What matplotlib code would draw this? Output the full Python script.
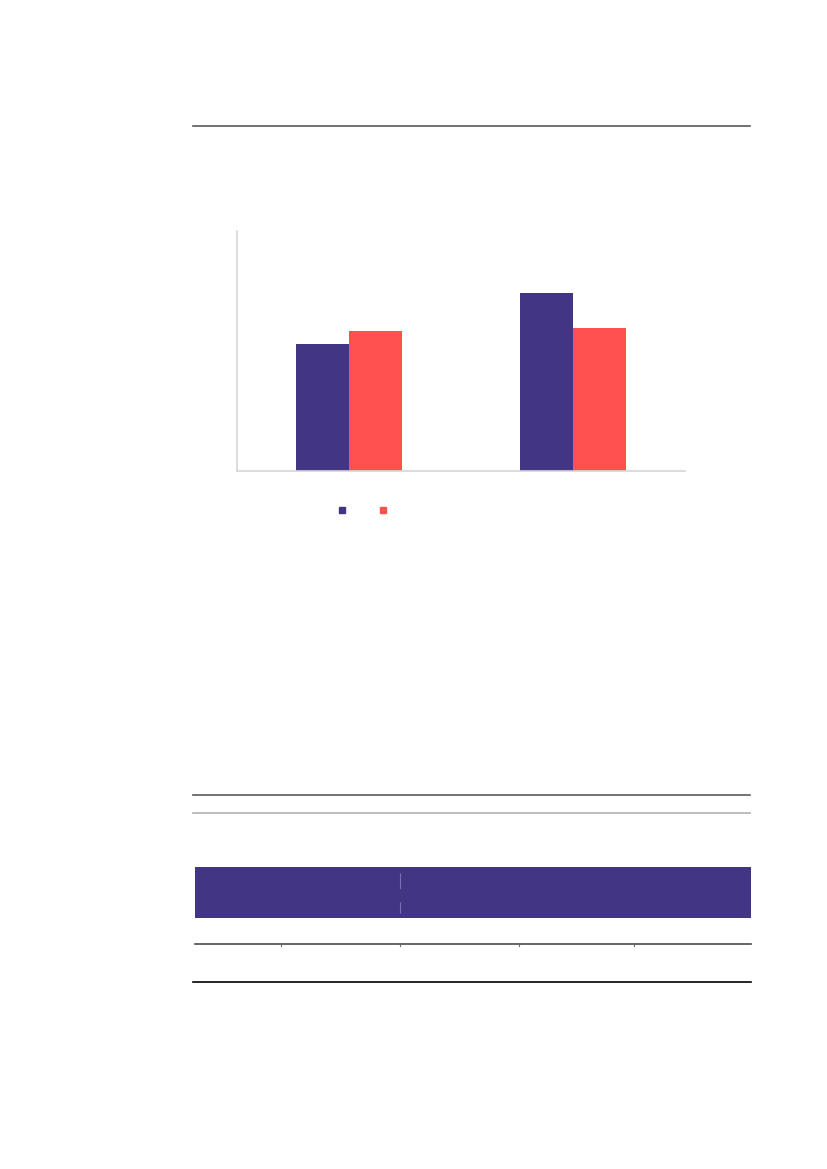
import matplotlib.pyplot as plt
from matplotlib.lines import Line2D
from matplotlib.patches import Patch, Rectangle

# data (no labels are printed on it)
groups = [0, 1]
series_a = [31.8, 44.5]
series_b = [35.0, 35.8]
y_max = 60

purple = '#423584'
red = '#ff5050'

W, H = 827, 1169


def fx(x):
    return x / W


def fy(y):
    return 1 - y / H


def hline(fig, y, x0, x1, color, lw):
    fig.add_artist(Line2D([fx(x0), fx(x1)], [fy(y), fy(y)],
                          transform=fig.transFigure, color=color, lw=lw))


fig = plt.figure(figsize=(8.27, 11.69), dpi=100)

# page rules
hline(fig, 126, 193, 750, '#5a5a5a', 1.2)
hline(fig, 795, 193, 750, '#5a5a5a', 1.2)
hline(fig, 813, 193, 750, '#b0b0b0', 1.2)

# chart
ax = fig.add_axes([fx(237), fy(471), fx(685) - fx(237), fy(231) - fy(471)])
w = 0.237
ax.bar([g - w / 2 for g in groups], series_a, width=w, color=purple)
ax.bar([g + w / 2 for g in groups], series_b, width=w, color=red)
ax.set_xlim(-0.5, 1.5)
ax.set_ylim(0, y_max)
ax.set_xticks([])
ax.set_yticks([])
for s in ['top', 'right']:
    ax.spines[s].set_visible(False)
for s in ['left', 'bottom']:
    ax.spines[s].set_color('#d6d6d6')
    ax.spines[s].set_linewidth(1.2)

handles = [Patch(color=purple), Patch(color=red)]
fig.legend(handles, ['', ''], ncol=2, loc='center',
           bbox_to_anchor=(fx(365), fy(511)), frameon=False, fontsize=8,
           handlelength=0.55, handleheight=0.55, handletextpad=0.5,
           columnspacing=2.65)

# table block
tab = fig.add_axes([0, 0, 1, 1])
tab.set_xlim(0, W)
tab.set_ylim(H, 0)
tab.axis('off')
tab.add_patch(Rectangle((195, 867), 556, 51, color=purple, lw=0))
tab.plot([400, 400], [873, 913], color='#7a70b0', lw=0.8, ls=(0, (14, 12)))
tab.plot([195, 751], [944, 944], color='#4a4a4a', lw=1.2)
col_edges = [281, 400, 519, 634]
for cx in col_edges:
    tab.plot([cx, cx], [944, 945.5], color='#6a6a6a', lw=0.8)
tab.plot([193, 751], [982, 982], color='black', lw=1.2)

fig.savefig('out.png', dpi=100)
